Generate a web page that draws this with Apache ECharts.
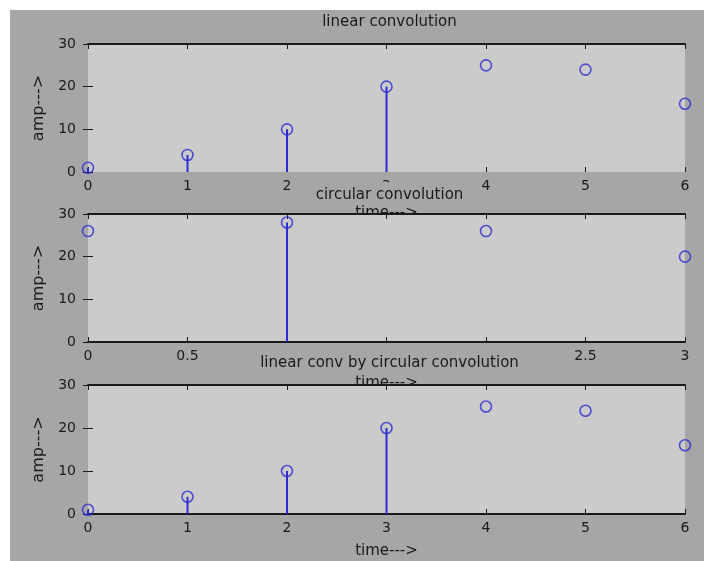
<!DOCTYPE html>
<html><head><meta charset="utf-8">
<script src="https://cdn.jsdelivr.net/npm/echarts@6/dist/echarts.min.js"></script>
<style>
html,body{margin:0;padding:0;background:#fff}
#wrap{position:relative;width:704px;height:561px;background:#fff;overflow:hidden}
#fig{position:absolute;left:10px;top:10px;right:0;bottom:0;background:#a6a6a6}
#main{position:absolute;left:0;top:0;width:704px;height:561px}
</style></head>
<body><div id="wrap"><div id="fig"></div><div id="main"></div></div>
<script>
// ---- data ----
const linX = [0, 1, 2, 3, 4, 5, 6];
const linY = [1, 4, 10, 20, 25, 24, 16];
const linStem = [1, 4, 10, 20, null, null, null];
const circX = [0, 1, 2, 3];
const circY = [26, 28, 26, 20];
const circStem = [null, 28, null, null];
const lcX = [0, 1, 2, 3, 4, 5, 6];
const lcY = [1, 4, 10, 20, 25, 24, 16];
const lcStem = [1, 4, 10, 20, null, null, null];
const titles = ['linear convolution', 'circular convolution', 'linear conv by circular convolution'];
const xName = 'time--->';
const yName = 'amp--->';
const xMax = [6, 3, 6];
const xStep = [1, 0.5, 1];
const yMax = 30;
const yStep = 10;

// ---- layout ----
const FONT = 'DejaVu Sans, Verdana, sans-serif';
const gridTops = [44, 214, 385];
const gridH = [128, 128, 129];
const L = 88, W = 597;
const BLUE = '#2c2cd2';
const INK = '#1a1a1a';
const FIG = '#a6a6a6';

const chart = echarts.init(document.getElementById('main'), null, {renderer: 'canvas'});

const grid = [], xAxis = [], yAxis = [], series = [], title = [];
for (let i = 0; i < 3; i++) {
  grid.push({left: L, top: gridTops[i], width: W, height: gridH[i], show: true,
    backgroundColor: '#cbcbcb', borderWidth: 0, z: 1});
  xAxis.push({gridIndex: i, type: 'value', min: 0, max: xMax[i], interval: xStep[i], position: 'bottom', z: 2,
    axisLine: {show: i > 0, onZero: false, lineStyle: {color: INK, width: 2}},
    axisTick: {show: true, inside: true, length: 5, lineStyle: {color: INK}},
    axisLabel: {fontSize: 14, color: INK, margin: 7, fontFamily: FONT},
    splitLine: {show: false}});
  xAxis.push({gridIndex: i, type: 'value', min: 0, max: xMax[i], interval: xStep[i], position: 'top', z: 2,
    axisLine: {show: true, onZero: false, lineStyle: {color: INK, width: 2}},
    axisTick: {show: true, inside: true, length: 5, lineStyle: {color: INK}},
    axisLabel: {show: false}, splitLine: {show: false}});
  yAxis.push({gridIndex: i, type: 'value', min: 0, max: yMax, interval: yStep, position: 'left', z: 2,
    name: yName, nameLocation: 'middle', nameGap: 38,
    nameTextStyle: {fontSize: 16, color: INK, fontFamily: FONT},
    axisLine: {show: false},
    axisTick: {show: true, inside: true, length: 5, lineStyle: {color: INK}},
    axisLabel: {fontSize: 14, color: INK, margin: 12, fontFamily: FONT},
    splitLine: {show: false}});
  yAxis.push({gridIndex: i, type: 'value', min: 0, max: yMax, interval: yStep, position: 'right', z: 2,
    axisLine: {show: false},
    axisTick: {show: true, inside: true, length: 5, lineStyle: {color: INK}},
    axisLabel: {show: false}, splitLine: {show: false}});
}

const sets = [[linX, linY, linStem], [circX, circY, circStem], [lcX, lcY, lcStem]];
sets.forEach((s, i) => {
  const [xs, ys, st] = s;
  series.push({type: 'custom', xAxisIndex: 2 * i, yAxisIndex: 2 * i, z: 3, clip: false,
    data: xs.map((x, k) => [x, st[k]]).filter(d => d[1] != null),
    renderItem: (params, api) => {
      const p0 = api.coord([api.value(0), 0]);
      const p1 = api.coord([api.value(0), api.value(1)]);
      return {type: 'line', shape: {x1: p0[0], y1: p0[1], x2: p1[0], y2: p1[1]},
        style: {stroke: BLUE, lineWidth: 2}};
    }});
  series.push({type: 'scatter', xAxisIndex: 2 * i, yAxisIndex: 2 * i, z: 4,
    data: xs.map((x, k) => [x, ys[k]]),
    symbol: 'circle', symbolSize: 11,
    itemStyle: {color: 'rgba(0,0,0,0)', borderColor: BLUE, borderWidth: 1.6}});
});

// plot titles (drawn over neighbouring tick labels)
const titleTop = [14, 182, 347];
const titlePad = [[1, 3, 1, 3], [6, 3, 1, 3], [9, 3, 0, 3]];
titles.forEach((t, i) => {
  title.push({text: t, left: L + W / 2, top: titleTop[i], textAlign: 'center', z: 6,
    backgroundColor: FIG, padding: titlePad[i],
    textStyle: {fontSize: 15, fontWeight: 'normal', color: INK, fontFamily: FONT}});
});
// x-axis labels (partly hidden behind the next plot area)
const xNameY = [206, 376, 544];
xNameY.forEach(y => {
  title.push({text: xName, left: L + W / 2, top: y, textAlign: 'center', z: 0, padding: 0,
    textStyle: {fontSize: 15, fontWeight: 'normal', color: INK, fontFamily: FONT}});
});

chart.setOption({animation: false, backgroundColor: 'transparent', grid, xAxis, yAxis, series, title});
</script></body></html>
